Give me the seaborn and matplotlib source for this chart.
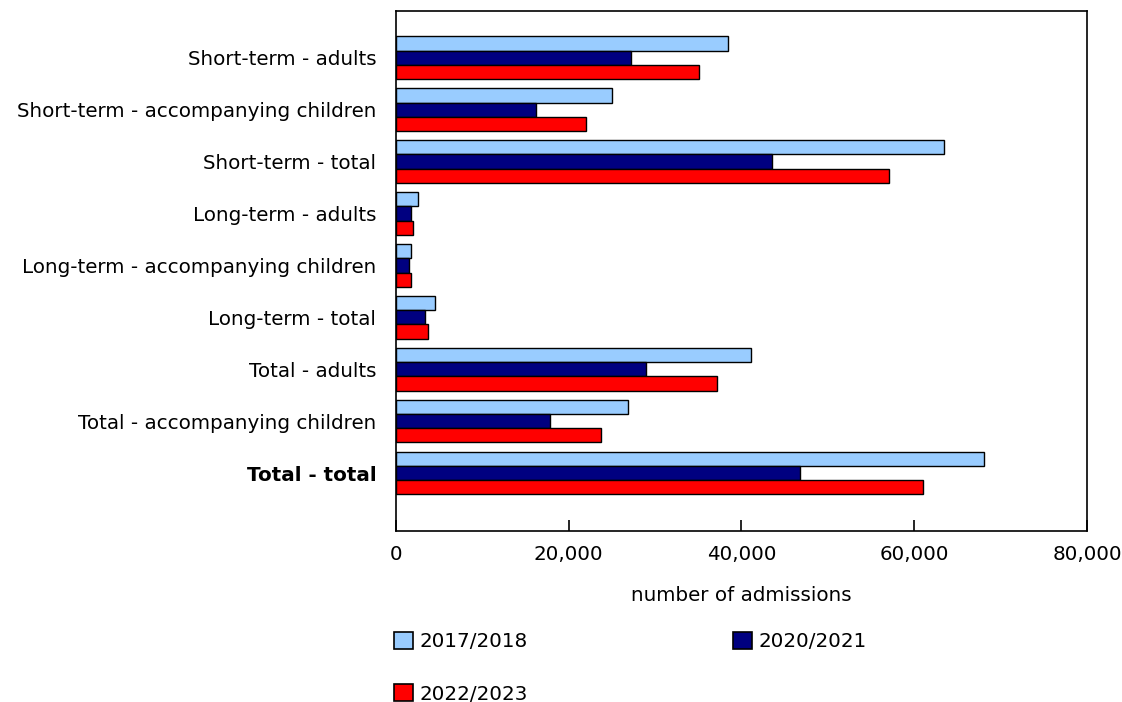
import pandas as pd
import numpy as np
import matplotlib
matplotlib.use("Agg")
import matplotlib.pyplot as plt
import matplotlib.patches as mpatches
from matplotlib.ticker import StrMethodFormatter
import seaborn as sns

categories = ["Short-term - adults", "Short-term - accompanying children", "Short-term - total",
              "Long-term - adults", "Long-term - accompanying children", "Long-term - total",
              "Total - adults", "Total - accompanying children", "Total - total"]
years = ["2017/2018", "2020/2021", "2022/2023"]

v_2017 = [38500, 25030, 63500, 2620, 1810, 4510, 41160, 26920, 68130]
v_2020 = [27270, 16200, 43520, 1730, 1580, 3360, 29000, 17820, 46830]
v_2022 = [35140, 21990, 57130, 2040, 1730, 3780, 37220, 23760, 61030]

colors = ["#99CCFF", "#000080", "#FF0000"]

# long table for seaborn
df = pd.DataFrame({
    "category": categories * 3,
    "year": [years[0]] * 9 + [years[1]] * 9 + [years[2]] * 9,
    "value": v_2017 + v_2020 + v_2022,
})

sns.set_style("white")
plt.rcParams["font.family"] = ["DejaVu Sans"]
plt.rcParams["text.color"] = "black"
plt.rcParams["axes.labelcolor"] = "black"
plt.rcParams["xtick.color"] = "black"
plt.rcParams["ytick.color"] = "black"
fs = 14.3

fig = plt.figure(figsize=(11.22, 7.02), dpi=100)
ax = fig.add_axes([395.7 / 1122, 1 - 531 / 702, (1087 - 395.7) / 1122, (531 - 11) / 702])

sns.barplot(data=df, y="category", x="value", hue="year", order=categories, hue_order=years,
            palette=colors, orient="h", width=0.82, edgecolor="black", linewidth=1.0,
            saturation=1, legend=False, ax=ax)

ax.set_xlim(0, 80000)
ax.set_ylim(9.115, -0.9)
ax.set_xticks([0, 20000, 40000, 60000, 80000])
ax.xaxis.set_major_formatter(StrMethodFormatter("{x:,.0f}"))
ax.tick_params(axis="x", bottom=True, direction="in", length=8, width=1.2, color="black",
               pad=10, labelsize=fs)
ax.tick_params(axis="y", left=False, length=0, pad=14, labelsize=fs)
ax.set_ylabel("")
ax.set_xlabel("number of admissions", fontsize=fs, labelpad=16)
for lab in ax.get_yticklabels():
    if lab.get_text() == "Total - total":
        lab.set_fontweight("bold")
for s in ax.spines.values():
    s.set_visible(True)
    s.set_color("black")
    s.set_linewidth(1.2)

# legend, filled row by row
handles = [mpatches.Patch(facecolor=c, edgecolor="black", linewidth=1.2) for c in colors]
order = [0, 2, 1]
fig.legend([handles[i] for i in order], [years[i] for i in order],
           loc="upper left", bbox_to_anchor=(394 / 1122, 1 - 632 / 702), ncol=2,
           frameon=False, handlelength=0.95, handleheight=0.95, handletextpad=0.35,
           columnspacing=10.3, labelspacing=1.65, borderpad=0, borderaxespad=0, fontsize=fs)

fig.savefig("out.png", dpi=100)
